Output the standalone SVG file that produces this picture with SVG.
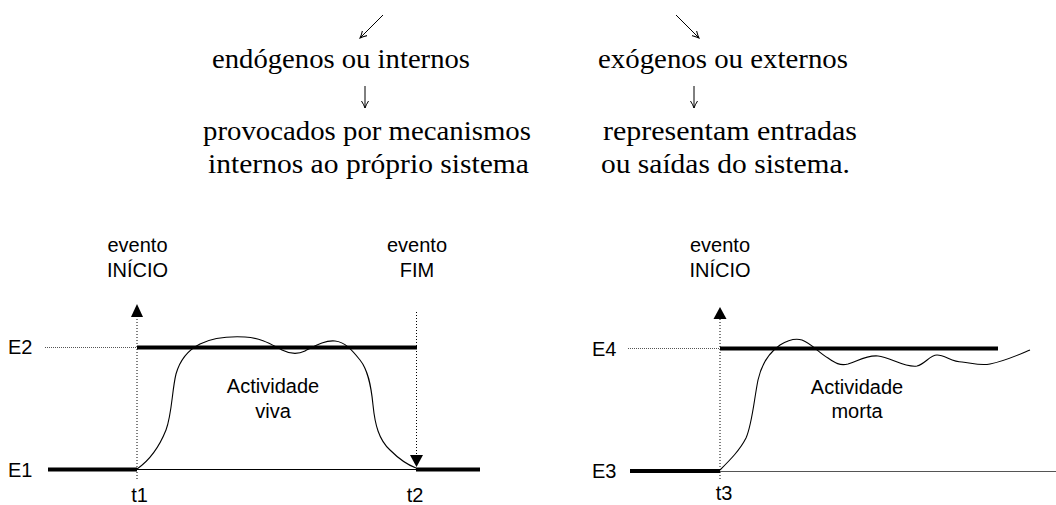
<svg xmlns="http://www.w3.org/2000/svg" width="1056" height="505" viewBox="0 0 1056 505">
<style>
.tx{font-family:"Liberation Serif","Times New Roman",serif;font-size:28px;fill:#000}
.sn{font-family:"Liberation Sans",Arial,sans-serif;font-size:20px;fill:#000}
.thick{stroke:#000;stroke-width:4;fill:none}
.thin{stroke:#000;stroke-width:1;fill:none}
.dot{stroke:#000;stroke-width:1;stroke-dasharray:1,2;fill:none}
.dotg{stroke:#555;stroke-width:1;stroke-dasharray:1,1;fill:none}
.curve{stroke:#000;stroke-width:1.1;fill:none}
.ah{fill:#000}
</style>
<defs>
<marker id="open" markerUnits="userSpaceOnUse" markerWidth="10" markerHeight="10" refX="7" refY="4" orient="auto">
<path d="M0,0.5 Q4,3 7,4 Q4,5 0,7.5" fill="none" stroke="#000" stroke-width="1"/>
</marker>
</defs>
<g id="connectors">
<line x1="383" y1="15" x2="360" y2="38" class="thin" marker-end="url(#open)"/>
<line x1="676" y1="15" x2="699" y2="38" class="thin" marker-end="url(#open)"/>
<line x1="365" y1="86" x2="365" y2="108" class="thin" marker-end="url(#open)"/>
<line x1="694" y1="86" x2="694" y2="108" class="thin" marker-end="url(#open)"/>
</g>
<g id="endogenos">
<text class="tx" x="212" y="68" textLength="258" lengthAdjust="spacingAndGlyphs">endógenos ou internos</text>
<text class="tx" x="203" y="140" textLength="328" lengthAdjust="spacingAndGlyphs">provocados por mecanismos</text>
<text class="tx" x="208" y="173" textLength="321" lengthAdjust="spacingAndGlyphs">internos ao próprio sistema</text>
</g>
<g id="exogenos">
<text class="tx" x="598" y="68" textLength="250" lengthAdjust="spacingAndGlyphs">exógenos ou externos</text>
<text class="tx" x="603" y="140" textLength="254" lengthAdjust="spacingAndGlyphs">representam entradas</text>
<text class="tx" x="601" y="173" textLength="249" lengthAdjust="spacingAndGlyphs">ou saídas do sistema.</text>
</g>
<g id="actividade-viva">
<line x1="45" y1="347.5" x2="137" y2="347.5" class="dotg"/>
<line x1="137" y1="347.5" x2="417" y2="347.5" class="thick"/>
<line x1="48" y1="469.5" x2="137" y2="469.5" class="thick"/>
<line x1="137" y1="469.5" x2="416" y2="469.5" class="thin"/>
<line x1="416" y1="469.5" x2="480" y2="469.5" class="thick"/>
<line x1="137" y1="316" x2="137" y2="480" class="dot"/>
<polygon class="ah" points="137,304 131,317 143,317"/>
<line x1="416.5" y1="312" x2="416.5" y2="456" class="dot"/>
<polygon class="ah" points="416.5,467 410,455 423,455"/>
<path class="curve" d="M137,469 C150,460 160,445 166,430 C172,414 172,390 176,374 C180,360 188,350 200,344 C212,338 225,336 245,337 C262,338 272,345 282,350 C290,354 297,355 305,351 C315,346 325,340 335,341 C345,342 352,350 360,360 C368,370 371,385 373,405 C375,425 379,440 390,450 C398,458 408,465 416,468"/>
<text class="sn" x="137.5" y="252" text-anchor="middle">evento</text>
<text class="sn" x="137.5" y="277" text-anchor="middle">INÍCIO</text>
<text class="sn" x="417" y="252" text-anchor="middle">evento</text>
<text class="sn" x="417" y="277" text-anchor="middle">FIM</text>
<text class="sn" x="8" y="354">E2</text>
<text class="sn" x="8" y="477">E1</text>
<text class="sn" x="139.5" y="502" text-anchor="middle">t1</text>
<text class="sn" x="415" y="502" text-anchor="middle">t2</text>
<text class="sn" x="273" y="393" text-anchor="middle">Actividade</text>
<text class="sn" x="273" y="418" text-anchor="middle">viva</text>
</g>
<g id="actividade-morta">
<line x1="628" y1="348.5" x2="720" y2="348.5" class="dotg"/>
<line x1="720" y1="348.5" x2="998" y2="348.5" class="thick"/>
<line x1="630" y1="471" x2="720" y2="471" class="thick"/>
<line x1="720" y1="471.5" x2="1056" y2="471.5" stroke="#555" stroke-width="1.2"/>
<line x1="720" y1="319" x2="720" y2="480" class="dot"/>
<polygon class="ah" points="720,307 713.5,319 726.5,319"/>
<path class="curve" d="M720,470 C730,460 740,450 746,438 C752,425 754,400 758,380 C762,362 770,352 780,345 C788,340 795,338 802,340 C812,344 818,352 828,358 C835,363 840,366 848,364 C858,361 866,355 878,356 C890,357 905,368 917,366 C925,364 930,355 937,355 C945,355 952,362 962,362 C972,363 980,366 990,364 C1005,361 1018,355 1030,350"/>
<text class="sn" x="720" y="252" text-anchor="middle">evento</text>
<text class="sn" x="720" y="277" text-anchor="middle">INÍCIO</text>
<text class="sn" x="592" y="356">E4</text>
<text class="sn" x="592" y="478">E3</text>
<text class="sn" x="724" y="500" text-anchor="middle">t3</text>
<text class="sn" x="857" y="394" text-anchor="middle">Actividade</text>
<text class="sn" x="857" y="418" text-anchor="middle">morta</text>
</g>
</svg>
